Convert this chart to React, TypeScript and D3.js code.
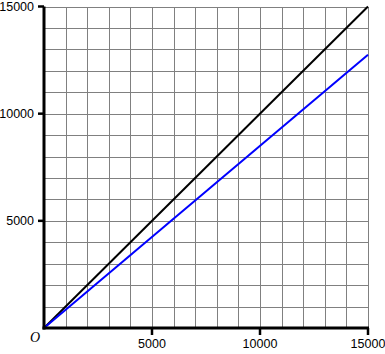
import React from "react";
import * as d3 from "d3";

const xTicks = [5000, 10000, 15000];
const yTicks = [5000, 10000, 15000];
const lineX = [0, 15000];
const blackY = [0, 15000];
const blueY = [0, 12750];
const domainMax = 15000;
const gridStep = 1000;

export default function App() {
  const W = 385, H = 354;
  const x = d3.scaleLinear().domain([0, domainMax]).range([44, 368]);
  const y = d3.scaleLinear().domain([0, domainMax]).range([328, 6.5]);
  const grid = d3.range(gridStep, domainMax + 1, gridStep);
  const line = d3.line<[number, number]>().x(d => x(d[0])).y(d => y(d[1]));
  const black = lineX.map((v, i) => [v, blackY[i]] as [number, number]);
  const blue = lineX.map((v, i) => [v, blueY[i]] as [number, number]);
  const font = "'Liberation Sans', Arial, sans-serif";
  const px = (v: number) => Math.round(v) + 0.5;
  return (
    <svg width={W} height={H} style={{ position: "absolute", left: 0, top: 0, background: "#fff" }}>
      <g stroke="#808080" strokeWidth={1} shapeRendering="crispEdges">
        {grid.map(v => (
          <line key={"gx" + v} x1={px(x(v))} x2={px(x(v))} y1={y(0)} y2={y(domainMax)} />
        ))}
        {grid.map(v => (
          <line key={"gy" + v} x1={x(0)} x2={x(domainMax)} y1={px(y(v))} y2={px(y(v))} />
        ))}
      </g>
      <path d={line(black) || ""} fill="none" stroke="#000" strokeWidth={2} />
      <path d={line(blue) || ""} fill="none" stroke="#0000ff" strokeWidth={2} />
      <line x1={x(0)} x2={x(0)} y1={y(0) + 1.5} y2={y(domainMax)} stroke="#000" strokeWidth={3} />
      <line x1={x(0) - 1.5} x2={x(domainMax) + 1} y1={y(0)} y2={y(0)} stroke="#000" strokeWidth={3} />
      {yTicks.map(v => (
        <g key={"yt" + v}>
          <line x1={x(0) - 6} x2={x(0)} y1={y(v)} y2={y(v)} stroke="#000" strokeWidth={2.5} />
          <text x={34} y={y(v) + 4.5} textAnchor="end" fontFamily={font} fontSize={12.5} fill="#000">{v}</text>
        </g>
      ))}
      {xTicks.map(v => (
        <g key={"xt" + v}>
          <line x1={x(v)} x2={x(v)} y1={y(0)} y2={y(0) + 7} stroke="#000" strokeWidth={2.5} />
          <text x={x(v)} y={348} textAnchor="middle" fontFamily={font} fontSize={12.5} fill="#000">{v}</text>
        </g>
      ))}
      <text x={30} y={342} fontFamily="'Liberation Serif', serif" fontStyle="italic" fontSize={14} fill="#000">O</text>
    </svg>
  );
}
